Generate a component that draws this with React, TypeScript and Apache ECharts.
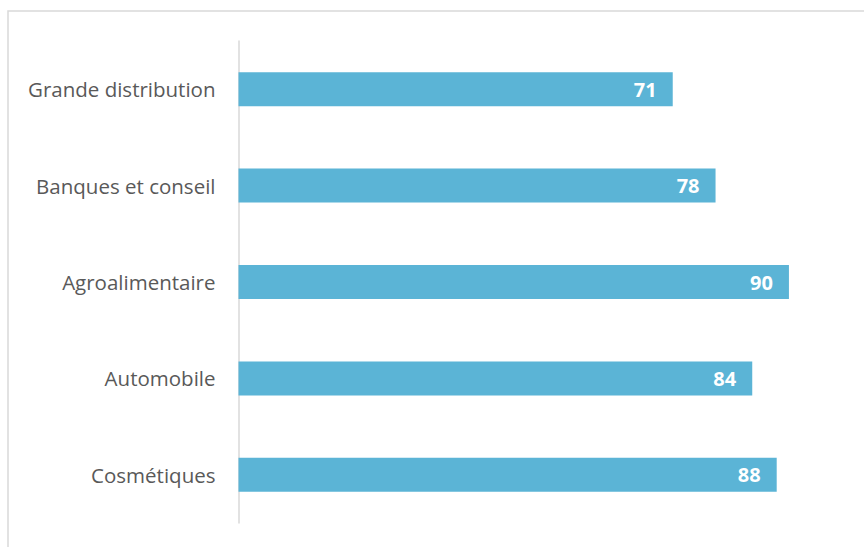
import React, { useEffect, useRef } from "react";
import * as echarts from "echarts";

const categories = ["Grande distribution", "Banques et conseil", "Agroalimentaire", "Automobile", "Cosmétiques"];
const values = [71, 78, 90, 84, 88];

export default function App() {
  const ref = useRef<HTMLDivElement>(null);
  useEffect(() => {
    const chart = echarts.init(ref.current!, null, { renderer: "svg" });
    chart.setOption({
      animation: false,
      backgroundColor: "#ffffff",
      graphic: [
        {
          type: "rect",
          shape: { x: 8, y: 11, width: 900, height: 600 },
          style: { fill: "none", stroke: "#D9D9D9", lineWidth: 1.5 },
          silent: true,
        },
      ],
      grid: { left: 238.5, top: 41, width: 611.6, height: 482 },
      xAxis: {
        type: "value",
        min: 0,
        max: 100,
        show: false,
      },
      yAxis: {
        type: "category",
        data: categories,
        inverse: true,
        axisLine: { show: true, lineStyle: { color: "#D9D9D9", width: 1.5 } },
        axisTick: { show: false },
        axisLabel: {
          color: "#595959",
          fontFamily: "Open Sans",
          fontSize: 20.5,
          margin: 23,
        },
      },
      series: [
        {
          type: "bar",
          data: values,
          barWidth: 34,
          itemStyle: { color: "#5BB4D6" },
          label: {
            show: true,
            position: "insideRight",
            distance: 16,
            color: "#ffffff",
            fontFamily: "Open Sans",
            fontWeight: "bold",
            fontSize: 20,
          },
        },
      ],
    });
    return () => chart.dispose();
  }, []);
  return <div ref={ref} style={{ position: "absolute", left: 0, top: 0, width: 864, height: 547 }} />;
}
